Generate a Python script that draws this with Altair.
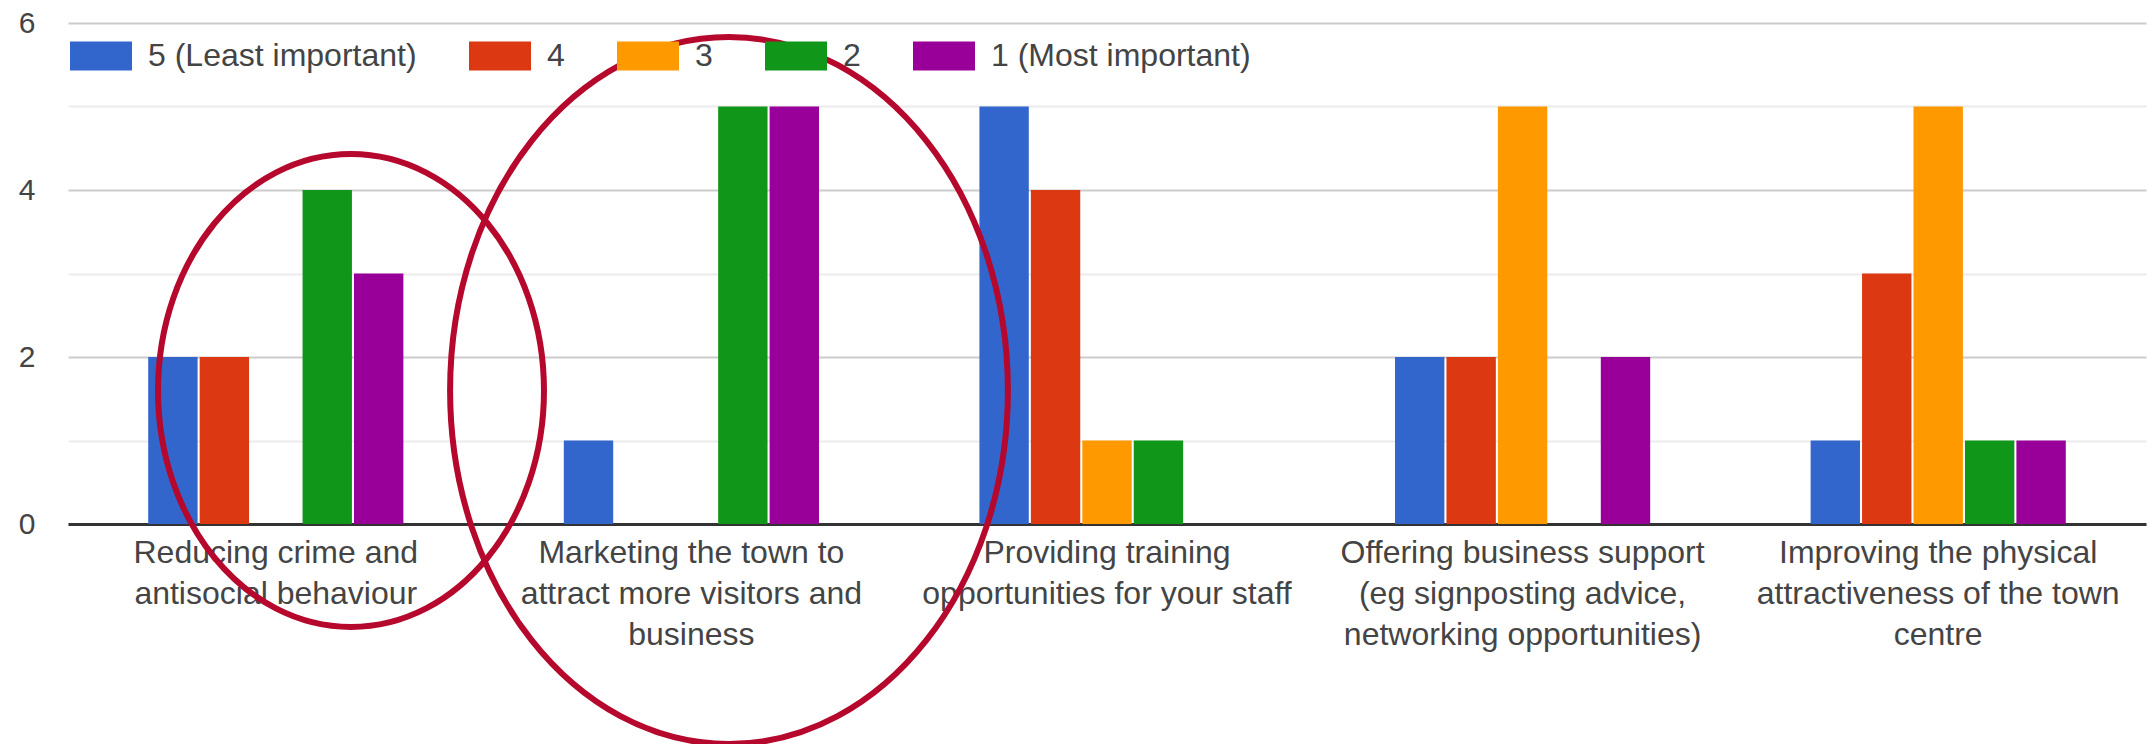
import json
import altair as alt
import pandas as pd

# ---- data ----
categories = [
    "Reducing crime and antisocial behaviour",
    "Marketing the town to attract more visitors and business",
    "Providing training opportunities for your staff",
    "Offering business support (eg signposting advice, networking opportunities)",
    "Improving the physical attractiveness of the town centre",
]
category_lines = [
    ["Reducing crime and", "antisocial behaviour"],
    ["Marketing the town to", "attract more visitors and", "business"],
    ["Providing training", "opportunities for your staff"],
    ["Offering business support", "(eg signposting advice,", "networking opportunities)"],
    ["Improving the physical", "attractiveness of the town", "centre"],
]
series = ["5 (Least important)", "4", "3", "2", "1 (Most important)"]
colors = ["#3366cc", "#dc3912", "#ff9900", "#109618", "#990099"]
values_5 = [2, 1, 5, 2, 1]
values_4 = [2, 0, 4, 2, 3]
values_3 = [0, 0, 1, 5, 5]
values_2 = [4, 5, 1, 0, 1]
values_1 = [3, 5, 0, 2, 1]
y_ticks = [0, 1, 2, 3, 4, 5, 6]

series_values = [values_5, values_4, values_3, values_2, values_1]
rows = []
for s, vals in zip(series, series_values):
    for c, v in zip(categories, vals):
        rows.append({"category": c, "series": s, "count": v})
df = pd.DataFrame(rows)

label_expr = ""
for c, lines in zip(categories, category_lines):
    label_expr += f"datum.value == '{c}' ? {json.dumps(lines)} : "
label_expr += "datum.label"

FONT = "Liberation Sans"
TEXT = "#444444"

bars = alt.Chart(df).mark_bar().encode(
    x=alt.X(
        "category:N",
        sort=categories,
        scale=alt.Scale(domain=categories, paddingInner=0.386, paddingOuter=0.193),
        axis=alt.Axis(
            title=None, labelAngle=0, labelExpr=label_expr, labelFont=FONT,
            labelFontSize=32, labelColor=TEXT, labelLineHeight=41, labelPadding=13,
            labelBaseline="top", labelLimit=0, ticks=False, grid=False,
            domainColor="#333333", domainWidth=3,
        ),
    ),
    xOffset=alt.XOffset(
        "series:N", sort=series,
        scale=alt.Scale(domain=series, paddingInner=0.04, paddingOuter=0),
    ),
    y=alt.Y(
        "count:Q",
        scale=alt.Scale(domain=[0, 6], nice=False),
        axis=alt.Axis(
            title=None, values=y_ticks,
            labelExpr="datum.value % 2 == 0 ? datum.label : ''",
            gridColor={"condition": {"test": "datum.value % 2 == 0", "value": "#cccccc"},
                       "value": "#ebebeb"},
            gridWidth=2, domain=False, ticks=False, labelFont=FONT,
            labelFontSize=30, labelColor=TEXT, labelPadding=33,
        ),
    ),
    color=alt.Color(
        "series:N", sort=series,
        scale=alt.Scale(domain=series, range=colors),
        legend=alt.Legend(
            title=None, orient="none", legendX=2, legendY=2, direction="horizontal",
            symbolType="M-1,-0.47H1V0.47H-1Z", symbolSize=3844, symbolStrokeWidth=0,
            labelFont=FONT, labelFontSize=32, labelColor=TEXT, labelOffset=16,
            columnPadding=52, padding=0, labelLimit=0,
        ),
    ),
)


def ellipse_path(a):
    k = 0.5523
    return (f"M {a} 0 C {a} {k} {k*a} 1 0 1 C {-k*a} 1 {-a} {k} {-a} 0 "
            f"C {-a} {-k} {-k*a} -1 0 -1 C {k*a} -1 {a} {-k} {a} 0 Z")


anno = pd.DataFrame({"k": [0]})
ell1 = alt.Chart(anno).mark_point(
    shape=ellipse_path(0.816), filled=False, stroke="#b5082c", strokeWidth=6,
    opacity=1, size=473 ** 2,
).encode(x=alt.value(283), y=alt.value(367.5))
ell2 = alt.Chart(anno).mark_point(
    shape=ellipse_path(0.789), filled=False, stroke="#b5082c", strokeWidth=6,
    opacity=1, size=707 ** 2,
).encode(x=alt.value(661), y=alt.value(367.5))

chart = alt.layer(bars, ell1, ell2).properties(
    width=2078, height=501,
    autosize=alt.AutoSizeParams(type="none"),
    padding={"left": 68, "top": 23, "right": 4, "bottom": 220},
    background="white",
).configure_view(stroke=None)

chart.save("out.html", embed_options={"renderer": "svg", "actions": False})
